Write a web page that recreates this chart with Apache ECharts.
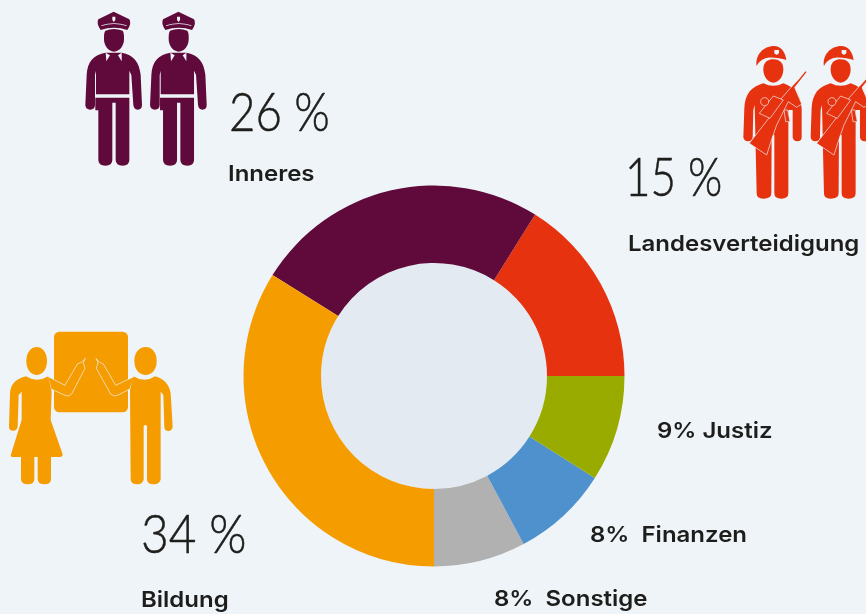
<!DOCTYPE html>
<html><head><meta charset="utf-8">
<style>html,body{margin:0;padding:0;background:#EFF4F8}#c{width:866px;height:614px}</style>
<script src="https://cdn.jsdelivr.net/npm/echarts@6/dist/echarts.min.js"></script>
</head><body><div id="c"></div>
<script>
const categories=['Landesverteidigung','Inneres','Bildung','Sonstige','Finanzen','Justiz'];
const sliceValues=[16.1,25,33.9,7.8,8.2,9];
const percentLabels=['15 %','26 %','34 %','8%','8%','9%'];
const colors=['#E7320F','#5F0A3A','#F59C00','#B1B1B1','#4F91CD','#9AAB00'];
const BG='#EFF4F8', INK='#1D1D1B';

let shapeId=0;
function shapeOf(d){const name='iconShape'+(shapeId++);echarts.graphic.registerShape(name,echarts.graphic.extendPath(d,{}));return name;}
function big(t,x,y,sx){return {type:'text',x,y:y-44,scaleX:sx,style:{text:t,fontFamily:'Lato',fontWeight:300,fontSize:53,fill:INK,stroke:INK,lineWidth:0.5}};}
function lab(t,x,y){return {type:'text',x,y:y-19,scaleX:1.09,style:{text:t,fontFamily:'Inter',fontWeight:600,fontSize:22,fill:INK}};}
function p(d,fill){return {type:shapeOf(d),style:{fill:fill}};}
function sp(d,stroke,w,fill){return {type:shapeOf(d),style:{fill:fill||'none',stroke:stroke,lineWidth:w}};}
function grp(x,y,children){return {type:'group',x,y,scaleX:1/3,scaleY:1/3,children};}

function police(x,c){return grp(x,0,[
  p('M131 35 L178 58 Q186 70 172 90 Q132 76 92 90 Q78 70 85 58 Z',c),
  p('M94 76 Q132 64 170 76 L170 78 Q132 66 94 78 Z',BG),
  p('M127 50 L136 50 L136 60 L131.5 66 L127 60 Z',BG),
  p('M102 118 C102 104 102 100 106 92 Q132 82 158 92 C162 100 162 104 162 118 C162 138 148 155 132 155 C116 155 102 138 102 118 Z',c),
  p('M107 158 C70 165 52 185 50 225 L46 316 Q48 329 60 329 Q75 329 75 315 L75 225 L78 212 L78 283 L178 283 L178 212 L184 225 L190 315 Q192 329 203 329 Q216 329 216 315 L212 225 C208 185 190 165 155 158 Z',c),
  p('M76 293 L178 293 L178 480 Q178 497 158 497 Q137 497 137 480 L137 308 L127 308 L127 480 Q127 497 106 497 Q85 497 85 480 L85 331 L76 331 Z',c),
  p('M107 158 L120 166 L109 184 Z',BG),
  p('M155 158 L144 166 L155 184 Z',BG)
]);}

function soldier(x,c){return grp(x,30,[
  p('M410 108 C405 75 430 48 462 48 C482 48 496 65 499 90 C480 84 450 80 436 85 C422 90 415 98 410 108 Z',c),
  p('M463 60 L477 60 L477 70 L470 75 L463 70 Z',BG),
  p('M430 118 C430 95 445 88 460 88 C478 88 490 98 490 118 C490 140 476 158 460 158 C444 158 430 140 430 118 Z',c),
  p('M430 160 C395 170 375 190 373 235 L370 322 Q372 334 384 334 Q397 334 398 322 L400 240 L404 225 L410 490 Q410 506 430 506 Q454 506 454 490 L455 315 L463 315 L463 490 Q463 506 484 506 Q505 506 505 490 L505 240 L518 240 L518 322 Q520 334 532 334 Q545 334 545 322 L545 235 C540 190 520 170 490 160 Q460 175 430 160 Z',c),
  sp('M558 125 L523 170 L545 222 L530 232 L505 215 L470 285 L455 328 L440 375 L388 340 L450 260 L480 210 L515 170 Z',BG,2,c),
  sp('M418 250 L460 198 L490 210 L450 265 Z',BG,2,c),
  sp('M492 240 L497 275 L510 275 L503 240 Z',BG,2,c),
  sp('M422 215 C422 199 446 199 446 215 C446 231 422 231 422 215 Z',BG,2,c),
  sp('M558 125 L512 183',c,4)
]);}

function teach(c){return grp(0,320,[
  {type:'rect',shape:{x:162,y:35,width:222,height:242,r:16},style:{fill:c}},
  p('M79 123 C79 95 95 81 110 81 C125 81 141 95 141 123 C141 150 125 165 110 165 C95 165 79 150 79 123 Z',c),
  p('M403 123 C403 95 420 81 437 81 C454 81 470 95 470 123 C470 150 454 165 437 165 C420 165 403 150 403 123 Z',c),
  p('M78 169 Q110 190 145 169 L155 215 L152 300 L188 403 Q188 411 180 411 L153 411 L153 478 Q153 493 134 493 Q113 493 113 478 L113 411 L103 411 L103 478 Q103 493 84 493 Q63 493 63 478 L63 411 L38 411 Q30 411 33 403 L65 300 L65 215 L56 225 L53 320 Q50 332 40 332 Q27 332 27 320 L30 220 Q32 180 78 169 Z',c),
  p('M400 169 Q435 190 465 169 Q505 180 512 220 L518 320 Q516 333 505 333 Q494 333 493 320 L490 225 L482 215 L482 478 Q480 493 460 493 Q441 493 441 478 L441 318 Q436 312 431 318 L431 478 Q429 493 412 493 Q392 493 392 478 L390 210 Z',c),
  sp('M145 170 L195 196 L232 132 L245 127 L256 115 L250 128 L255 145 L215 222 Q205 232 195 226 L155 208',BG,2,c),
  sp('M402 170 L347 196 L310 132 L298 127 L288 115 L294 128 L289 145 L332 222 Q342 232 352 226 L388 208',BG,2,c)
]);}

const texts=[
  big(percentLabels[1],229,131,0.86), lab(categories[1],228,182),
  big(percentLabels[0],625,196,0.83), lab(categories[0],628,252),
  big(percentLabels[2],141,553,0.9), lab(categories[2],141,608),
  lab(percentLabels[5]+' '+categories[5],657,439),
  lab(percentLabels[4]+'  '+categories[4],590,543),
  lab(percentLabels[3]+'  '+categories[3],494,607)
];

const chart=echarts.init(document.getElementById('c'),null,{renderer:'canvas'});
chart.setOption({
  animation:false,
  backgroundColor:BG,
  graphic:[police(70,colors[1]),police(134.7,colors[1]),soldier(620,colors[0]),soldier(687.3,colors[0]),teach(colors[2])].concat(texts),
  series:[
   {type:'pie',silent:true,center:[434,376],radius:[0,113],label:{show:false},labelLine:{show:false},
    data:[{value:1,itemStyle:{color:'#E3EAF2'}}]},
   {type:'pie',silent:true,center:[434,376],radius:[113,190.5],startAngle:0,clockwise:false,label:{show:false},labelLine:{show:false},
    data:categories.map((n,i)=>({name:n,value:sliceValues[i],itemStyle:{color:colors[i]}}))}
  ]
});
</script></body></html>
